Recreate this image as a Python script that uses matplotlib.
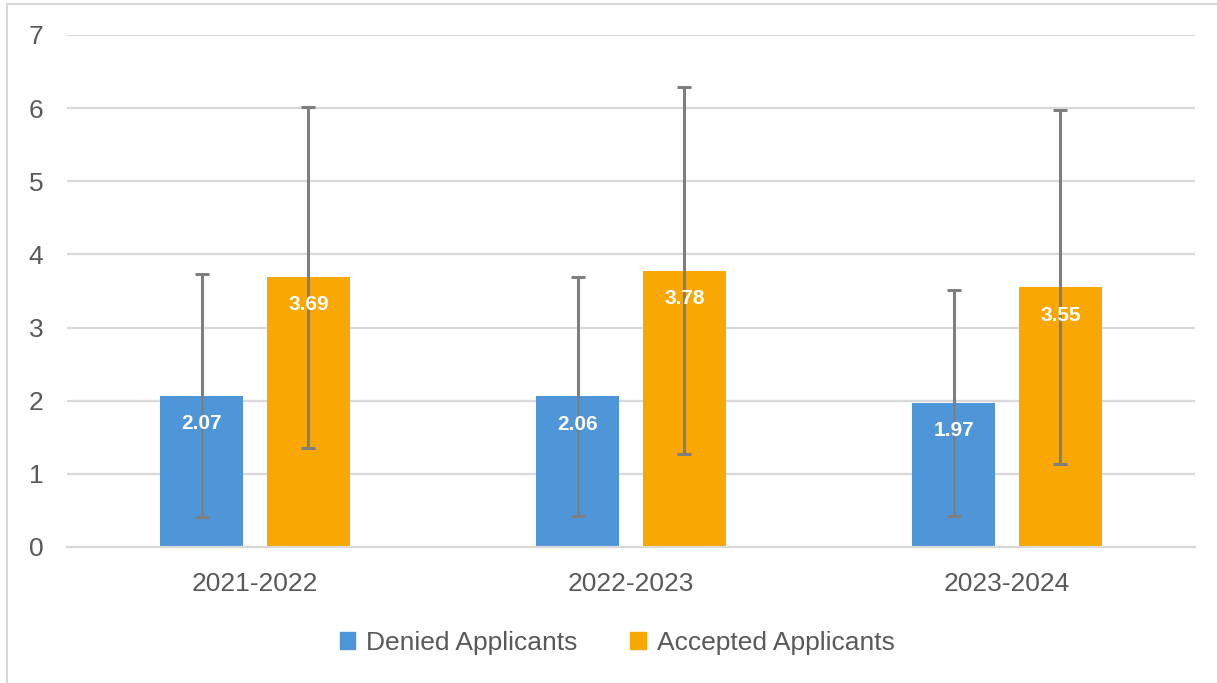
import numpy as np
import matplotlib
matplotlib.use("Agg")
import matplotlib.pyplot as plt
from matplotlib.lines import Line2D

# data
years = ["2021-2022", "2022-2023", "2023-2024"]
denied = [2.07, 2.06, 1.97]
accepted = [3.69, 3.78, 3.55]
denied_err = [1.66, 1.63, 1.54]
accepted_err = [2.33, 2.51, 2.42]
series_names = ["Denied Applicants", "Accepted Applicants"]

blue = "#4f96d9"
orange = "#f9a702"
text_gray = "#595959"
grid_gray = "#d9d9d9"
err_gray = "#7f7f7f"

plt.rcParams["font.family"] = ["Liberation Sans", "DejaVu Sans"]

fig = plt.figure(figsize=(12.17, 6.83), dpi=100)
ax = fig.add_axes([67 / 1217, 1 - 547 / 683, (1195 - 67) / 1217, (547 - 35) / 683])

x = np.arange(len(years))
w = 0.221
off = 0.142

ax.bar(x - off, denied, w, color=blue, zorder=2, label=series_names[0])
ax.bar(x + off, accepted, w, color=orange, zorder=2, label=series_names[1])
ax.errorbar(x - off, denied, yerr=denied_err, fmt="none", ecolor=err_gray,
            elinewidth=2.2, capsize=5, capthick=2.2, zorder=3)
ax.errorbar(x + off, accepted, yerr=accepted_err, fmt="none", ecolor=err_gray,
            elinewidth=2.2, capsize=5, capthick=2.2, zorder=3)

for xs, vals in [(x - off, denied), (x + off, accepted)]:
    for xi, v in zip(xs, vals):
        ax.annotate(f"{v:.2f}", (xi, v), xytext=(0, -20), textcoords="offset points",
                    ha="center", va="center", color="white", fontsize=15,
                    fontweight="bold", zorder=4)

ax.set_xlim(-0.5, 2.5)
ax.set_ylim(0, 7)
ax.set_yticks(range(8))
ax.yaxis.grid(True, color=grid_gray, linewidth=1.6, zorder=0)
ax.set_axisbelow(True)
for s in ["top", "right", "left"]:
    ax.spines[s].set_visible(False)
ax.spines["bottom"].set_color(grid_gray)
ax.spines["bottom"].set_linewidth(1.6)
ax.set_xticks(x)
ax.set_xticklabels(years)
ax.tick_params(axis="both", length=0, labelsize=19, colors=text_gray)
ax.tick_params(axis="x", pad=18)
ax.tick_params(axis="y", pad=17)

handles = [plt.Rectangle((0, 0), 1, 1, color=blue), plt.Rectangle((0, 0), 1, 1, color=orange)]
leg = fig.legend(handles, series_names, loc="center", bbox_to_anchor=(617 / 1217, 1 - 643 / 683),
                 ncol=2, frameon=False, fontsize=19, handlelength=0.6, handleheight=0.6,
                 handletextpad=0.4, columnspacing=2.0)
for t in leg.get_texts():
    t.set_color(text_gray)

# chart area border (left and top only visible)
fig.add_artist(Line2D([7 / 1217, 7 / 1217], [0, 1 - 4 / 683], color=grid_gray, linewidth=1.5))
fig.add_artist(Line2D([7 / 1217, 1], [1 - 4 / 683, 1 - 4 / 683], color=grid_gray, linewidth=1.5))

fig.savefig("out.png", dpi=100, facecolor="white")
